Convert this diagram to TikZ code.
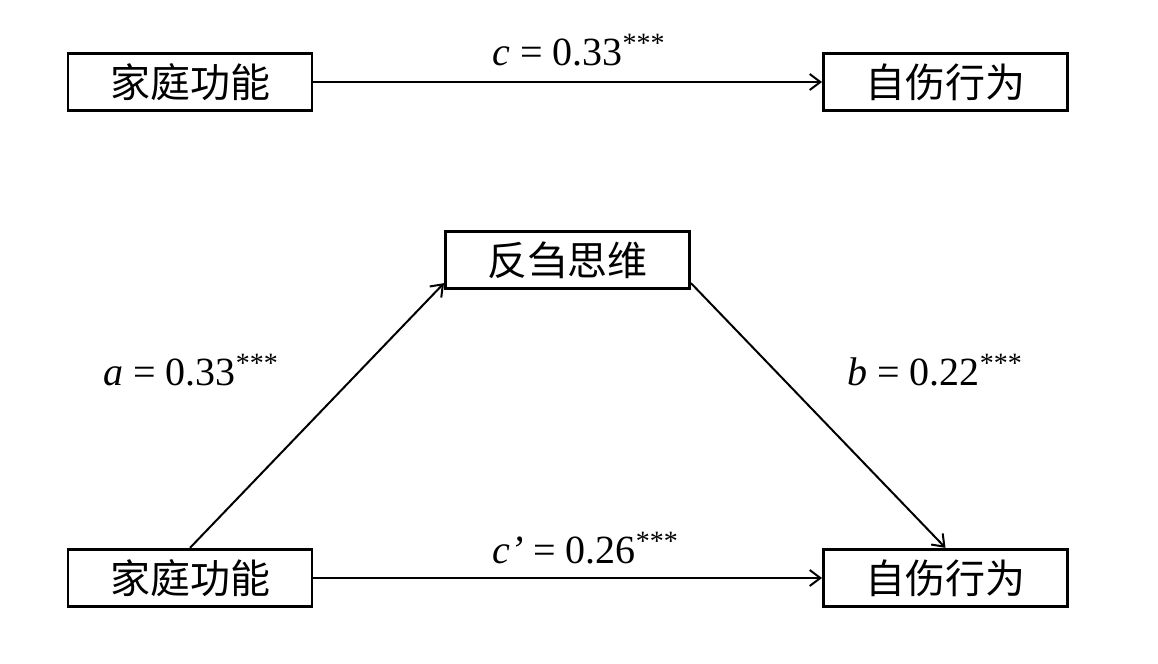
\documentclass[tikz,border=0pt]{standalone}
\usepackage{fontspec}
\setmainfont{Liberation Serif}
\newfontfamily\cjk{Noto Sans CJK SC}
\usetikzlibrary{arrows.meta,calc}
\begin{document}
\begin{tikzpicture}[x=0.75pt,y=-0.75pt,
  box/.style={draw,line width=2.2pt,minimum width=183pt,minimum height=43pt,inner sep=0pt,font=\cjk\fontsize{30}{36}\selectfont},
  conn/.style={line width=1.5pt,-{Straight Barb[length=8pt,width=12pt,line width=1.5pt]}},
  lab/.style={anchor=base west,inner sep=0pt,font=\fontsize{30}{36}\selectfont}]
\useasboundingbox (0,0) rectangle (1158,664);
\node[box] (x1) at (190,82) {家庭功能};
\node[box] (y1) at (945.5,82) {自伤行为};
\node[box] (m) at (567.5,260) {反刍思维};
\node[box] (x2) at (190,578) {家庭功能};
\node[box] (y2) at (945.5,578) {自伤行为};
\coordinate (min) at ($(m.south west)+(0,-7)$);
\coordinate (mout) at ($(m.south east)+(0,-7)$);
\draw[conn] (x1.east) -- (y1.west);
\draw[conn] (x2.east) -- (y2.west);
\draw[conn] (x2.north) -- (min);
\draw[conn] (mout) -- (y2.north);
\node[lab] (lc) at (492,65) {\textit{c} = 0.33\textsuperscript{***}};
\node[lab] (la) at (103,385) {\textit{a} = 0.33\textsuperscript{***}};
\node[lab] (lb) at (847,385) {\textit{b} = 0.22\textsuperscript{***}};
\node[lab] (lcp) at (492,563) {\textit{c’} = 0.26\textsuperscript{***}};
\end{tikzpicture}
\end{document}
